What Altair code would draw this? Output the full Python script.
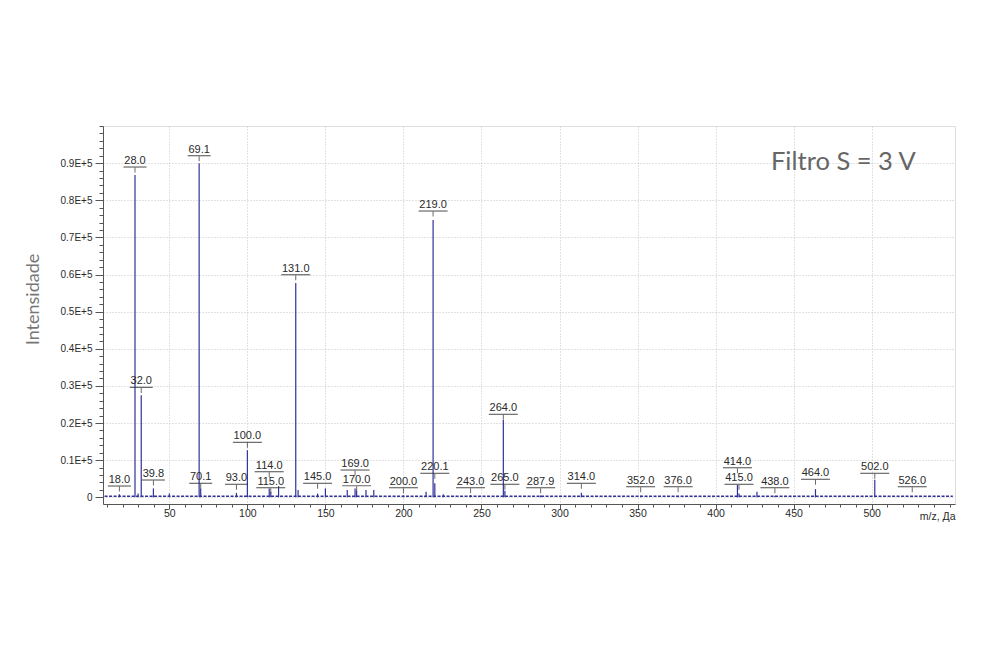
import altair as alt
import pandas as pd

# Labelled peaks: m/z, intensity (counts), label text, label bracket height (counts)
label_mz = [18.0, 28.0, 32.0, 39.8, 69.1, 70.1, 93.0, 100.0, 114.0, 115.0,
            131.0, 145.0, 169.0, 170.0, 200.0, 219.0, 220.1, 243.0, 264.0, 265.0,
            287.9, 314.0, 352.0, 376.0, 414.0, 415.0, 438.0, 464.0, 502.0, 526.0]
label_int = [800, 86800, 27500, 2400, 90000, 2400, 1200, 12700, 2400, 1400,
             57700, 1000, 2400, 1800, 500, 74700, 3800, 600, 20800, 1800,
             500, 1200, 400, 400, 3300, 1000, 400, 2200, 4700, 300]
label_text = ["18.0", "28.0", "32.0", "39.8", "69.1", "70.1", "93.0", "100.0", "114.0", "115.0",
              "131.0", "145.0", "169.0", "170.0", "200.0", "219.0", "220.1", "243.0", "264.0", "265.0",
              "287.9", "314.0", "352.0", "376.0", "414.0", "415.0", "438.0", "464.0", "502.0", "526.0"]
label_level = [3040, 88950, 29600, 4660, 92000, 3770, 3500, 14800, 6900, 2590,
               59950, 3770, 7350, 3120, 2590, 77100, 6460, 2590, 22350, 3500,
               2590, 3770, 2860, 2860, 7970, 3500, 2590, 4850, 6460, 2860]

# Unlabelled minor peaks
minor_mz = [30.0, 50.0, 120.0, 132.5, 150.0, 164.0, 176.0, 181.0, 214.5, 225.5, 426.5]
minor_int = [1000, 1000, 3000, 2000, 2400, 2000, 2000, 2000, 1500, 800, 1500]

# Noise floor
noise_x = [8.5, 552.0]
noise_level = [300, 300]

x_ticks = [50, 100, 150, 200, 250, 300, 350, 400, 450, 500]
x_minor = list(range(10, 551, 10))
y_ticks = list(range(0, 90001, 10000))
y_minor = list(range(0, 100001, 2000))

X_DOMAIN = [7.5, 553.4]
Y_DOMAIN = [-1800, 100000]

peaks = pd.DataFrame({"mz": label_mz + minor_mz, "inten": label_int + minor_int})
labels = pd.DataFrame({"mz": label_mz, "text": label_text, "level": label_level,
                       "w": [23 if len(t) == 4 else 29 for t in label_text]})
noise = pd.DataFrame({"x": [noise_x[0]], "x2": [noise_x[1]], "y": [noise_level[0]]})

FONT = "Liberation Sans"
PEAK = "#30309a"
INK = "#2a2a2a"

xs = alt.Scale(domain=X_DOMAIN, nice=False, zero=False)
ys = alt.Scale(domain=Y_DOMAIN, nice=False, zero=False)

x_axis = alt.Axis(values=x_ticks, title="m/z, Да", titleX=852, titleY=15, titleAlign="right",
                  titleBaseline="alphabetic", titleFont=FONT, titleFontSize=10.5,
                  titleFontWeight="normal", titleColor=INK,
                  labelFont=FONT, labelFontSize=10.5, labelColor=INK, labelPadding=-1,
                  tickSize=5, tickColor="#555", domainColor="#555",
                  grid=True, gridDash=[1, 2], gridColor="#c4c4c4", orient="bottom")
y_axis = alt.Axis(values=y_ticks, title="Intensidade", titleX=-65, titleY=173, titleAngle=270,
                  titleAlign="center", titleBaseline="alphabetic", titleFont="Lato",
                  titleFontSize=18, titleFontWeight="normal", titleColor="#777777",
                  labelExpr="datum.value == 0 ? '0' : format(datum.value/100000, '.1f') + 'E+5'",
                  labelFont=FONT, labelFontSize=10, labelColor=INK, labelPadding=3,
                  tickSize=8, tickColor="#555", domainColor="#555",
                  grid=True, gridDash=[1, 2], gridColor="#c4c4c4", orient="left")

base_peaks = alt.Chart(peaks).mark_rule(color=PEAK, strokeWidth=1.2).encode(
    x=alt.X("mz:Q", scale=xs, axis=x_axis),
    y=alt.Y("inten:Q", scale=ys, axis=y_axis),
    y2=alt.datum(0),
)

minor_axes = alt.Chart(peaks).mark_point(opacity=0).encode(
    x=alt.X("mz:Q", scale=xs, axis=alt.Axis(values=x_minor, labels=False, title=None, grid=False,
                                              domain=False, tickSize=3, tickColor="#555",
                                              orient="bottom")),
    y=alt.Y("inten:Q", scale=ys, axis=alt.Axis(values=y_minor, labels=False, title=None, grid=False,
                                                 domain=False, tickSize=4, tickColor="#555",
                                                 orient="left")),
)

noise_line = alt.Chart(noise).mark_rule(color=PEAK, strokeWidth=1.4, strokeDash=[3, 1.5]).encode(
    x=alt.X("x:Q", scale=xs, axis=None),
    x2="x2:Q",
    y=alt.Y("y:Q", scale=ys, axis=None),
)

texts = alt.Chart(labels).mark_text(font=FONT, fontSize=11, color=INK, baseline="alphabetic",
                                    align="center", dy=-3).encode(
    x=alt.X("mz:Q", scale=xs, axis=None),
    y=alt.Y("level:Q", scale=ys, axis=None),
    text="text:N",
)

brackets = alt.Chart(labels).mark_tick(orient="horizontal", thickness=1.2, color=INK).encode(
    x=alt.X("mz:Q", scale=xs, axis=None),
    y=alt.Y("level:Q", scale=ys, axis=None),
    size=alt.Size("w:Q", scale=None),
)

stems = alt.Chart(labels).mark_tick(orient="vertical", thickness=1, size=5, color=INK, yOffset=3).encode(
    x=alt.X("mz:Q", scale=xs, axis=None),
    y=alt.Y("level:Q", scale=ys, axis=None),
)

note = alt.Chart(pd.DataFrame({"t": ["Filtro S = 3 V"]})).mark_text(
    font="Lato", fontSize=25.5, color="#666666", align="left", baseline="alphabetic"
).encode(x=alt.value(668), y=alt.value(44), text="t:N")

chart = alt.layer(base_peaks, minor_axes, noise_line, texts, brackets, stems, note).resolve_axis(
    x="independent", y="independent"
).properties(
    width=852, height=378,
    autosize=alt.AutoSizeParams(type="none"),
    padding={"left": 95, "top": 118, "right": 30, "bottom": 60},
).configure_view(stroke="#666666", strokeWidth=1).configure(background="white")

chart.save("out.html", embed_options={"renderer": "svg", "actions": False})
